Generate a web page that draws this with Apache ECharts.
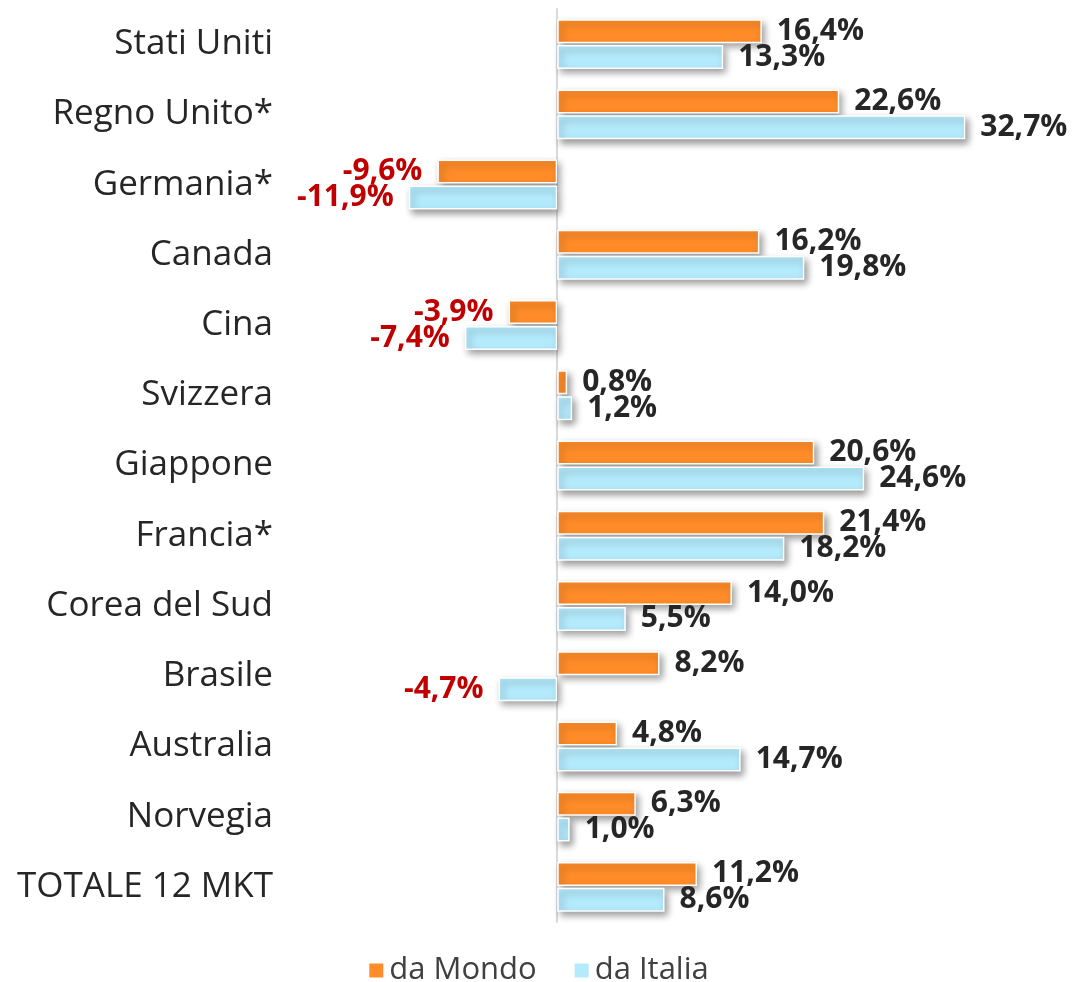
<!DOCTYPE html>
<html><head><meta charset="utf-8">
<script src="https://cdn.jsdelivr.net/npm/echarts@6/dist/echarts.min.js"></script>
<style>html,body{margin:0;padding:0;background:#fff}#c{width:1076px;height:982px}</style>
</head><body><div id="c"></div>
<script>
const categories = ['Stati Uniti','Regno Unito*','Germania*','Canada','Cina','Svizzera','Giappone','Francia*','Corea del Sud','Brasile','Australia','Norvegia','TOTALE 12 MKT'];
const daMondo = [16.4, 22.6, -9.6, 16.2, -3.9, 0.8, 20.6, 21.4, 14.0, 8.2, 4.8, 6.3, 11.2];
const daItalia = [13.3, 32.7, -11.9, 19.8, -7.4, 1.2, 24.6, 18.2, 5.5, -4.7, 14.7, 1.0, 8.6];

const FONT = '"Open Sans", "DejaVu Sans", sans-serif';
function items(arr){
  return arr.map(v => ({
    value: v,
    label: {
      position: v < 0 ? 'left' : 'right',
      color: v < 0 ? '#C00000' : '#262626'
    }
  }));
}
const fmt = p => p.value.toFixed(1).replace('.', ',') + '%';
const barStyle = c => ({
  color: c, borderColor: '#fff', borderWidth: 1.5,
  shadowColor: 'rgba(0,0,0,0.4)', shadowBlur: 7, shadowOffsetX: 3, shadowOffsetY: 4
});
const labelBase = { show: true, formatter: fmt, fontFamily: FONT, fontWeight: 'bold', fontSize: 30, distance: 15 };

const chart = echarts.init(document.getElementById('c'), null, {renderer: 'canvas'});
chart.setOption({
  animation: false,
  backgroundColor: '#fff',
  grid: { left: 370, right: 82, top: 9, bottom: 60, containLabel: false },
  xAxis: { type: 'value', min: -15, max: 35, show: false },
  yAxis: {
    type: 'category', data: categories, inverse: true,
    axisLine: { show: true, onZero: true, lineStyle: { color: '#D9D9D9', width: 2 } },
    axisTick: { show: false },
    axisLabel: { color: '#262626', fontFamily: FONT, fontSize: 35, margin: 97, padding: [4, 0, 0, 0] }
  },
  legend: {
    top: 950, left: 'center', itemWidth: 16, itemHeight: 16, itemGap: 36,
    icon: 'rect',
    textStyle: { color: '#404040', fontFamily: FONT, fontSize: 31 },
    data: ['da Mondo', 'da Italia']
  },
  series: [
    { name: 'da Mondo', type: 'bar', data: items(daMondo), barWidth: 24, barGap: '8%',
      itemStyle: barStyle('#FF8C28'), label: labelBase },
    { name: 'da Italia', type: 'bar', data: items(daItalia), barWidth: 24, barGap: '8%',
      itemStyle: barStyle('#B3EAFC'), label: labelBase }
  ]
});
</script></body></html>
